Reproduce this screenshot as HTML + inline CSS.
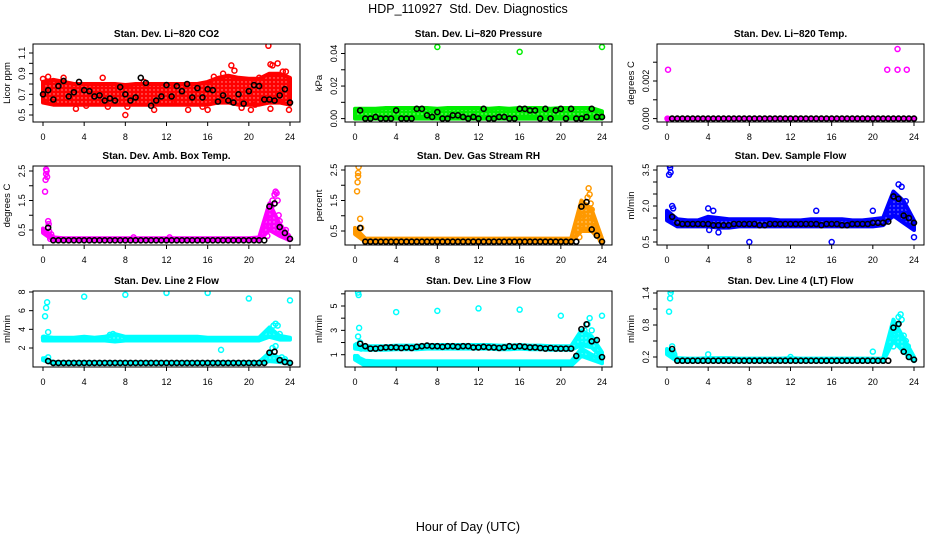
<!DOCTYPE html>
<html><head><meta charset="utf-8"><style>
html,body{margin:0;padding:0;background:#fff;}
svg{display:block;font-family:"Liberation Sans",sans-serif;}
</style></head><body>
<svg id="chart" width="936" height="540" viewBox="0 0 936 540" xmlns="http://www.w3.org/2000/svg">
<text x="468" y="13" text-anchor="middle" font-size="12.5">HDP_110927&#160; Std. Dev. Diagnostics</text>
<text x="468" y="531" text-anchor="middle" font-size="12.5">Hour of Day (UTC)</text>
</svg>
<script>
const NS="http://www.w3.org/2000/svg";
const svg=document.getElementById('chart');
const xTicks=[0,4,8,12,16,20,24];
const bandHours=[0,1,2,3,4,5,6,7,8,9,10,11,12,13,14,15,16,17,18,19,20,21,22,23,24];
const blackHours=[0,0.5,1,1.5,2,2.5,3,3.5,4,4.5,5,5.5,6,6.5,7,7.5,8,8.5,9,9.5,10,10.5,11,11.5,12,12.5,13,13.5,14,14.5,15,15.5,16,16.5,17,17.5,18,18.5,19,19.5,20,20.5,21,21.5,22,22.5,23,23.5,24];

// Panel 1 CO2
const co2BandLo=[0.62,0.6,0.6,0.6,0.6,0.6,0.6,0.6,0.6,0.6,0.6,0.6,0.6,0.6,0.6,0.6,0.6,0.62,0.62,0.6,0.6,0.6,0.62,0.62,0.6];
const co2BandHi=[0.82,0.84,0.82,0.8,0.8,0.8,0.8,0.8,0.79,0.8,0.8,0.8,0.8,0.8,0.8,0.8,0.82,0.86,0.88,0.86,0.85,0.85,0.9,0.9,0.86];
const co2ExtraX=[0,0.5,2,3.2,5.8,8,8.2,10.8,14.1,16,17.5,18.3,18.6,21,21.9,22.1,22.3,22.8,23.3,23.6,22.1,23.9,20.2,19.3,15.5,4.2,1,6.3,9.8,13,16.6,20.6];
const co2ExtraY=[0.85,0.87,0.86,0.56,0.86,0.5,0.58,0.55,0.55,0.55,0.9,0.98,0.93,0.86,1.17,0.99,0.98,1.0,0.92,0.92,0.56,0.55,0.55,0.57,0.58,0.59,0.62,0.58,0.82,0.63,0.87,0.6];
const co2Black=[0.7,0.74,0.65,0.78,0.83,0.68,0.72,0.82,0.74,0.73,0.68,0.69,0.64,0.66,0.64,0.77,0.7,0.64,0.67,0.86,0.81,0.59,0.64,0.68,0.79,0.68,0.78,0.73,0.8,0.67,0.76,0.67,0.75,0.74,0.63,0.69,0.64,0.62,0.7,0.61,0.73,0.79,0.78,0.65,0.65,0.64,0.69,0.75,0.62];

// Panel 2 Pressure
const presBandLo=[0,0,0,0,0,0,0,0,0,0,0,0,0,0,0,0,0,0,0,0,0,0,0,0,0];
const presBandHi=[0.006,0.006,0.006,0.0065,0.0065,0.0065,0.0065,0.0065,0.006,0.0065,0.0065,0.0065,0.0065,0.006,0.0065,0.006,0.0065,0.0065,0.0065,0.006,0.0065,0.0065,0.0065,0.0065,0.0045];
const presExtraX=[8,16,24];
const presExtraY=[0.044,0.041,0.044];
const presBlack=[0.005,0.005,0,0,0.001,0,0,0,0.005,0,0,0,0.006,0.006,0.002,0.001,0.004,0,0,0.002,0.002,0.001,0,0.001,0,0.006,0,0,0.001,0.001,0,0,0.006,0.006,0.005,0.005,0,0.006,0,0.005,0.006,0,0.006,0,0,0.001,0.006,0.001,0.001];

// Panel 3 Temp
const tempBandLo=[0,0,0,0,0,0,0,0,0,0,0,0,0,0,0,0,0,0,0,0,0,0,0,0,0];
const tempBandHi=[0,0,0,0,0,0,0,0,0,0,0,0,0,0,0,0,0,0,0,0,0,0,0,0,0];
const tempExtraX=[0.1,0.05,21.4,22.4,22.4,23.3];
const tempExtraY=[0.0026,0,0.0026,0.0026,0.0037,0.0026];
const tempBlack=[0,0,0,0,0,0,0,0,0,0,0,0,0,0,0,0,0,0,0,0,0,0,0,0,0,0,0,0,0,0,0,0,0,0,0,0,0,0,0,0,0,0,0,0,0,0,0,0,0];

// Panel 4 Amb box temp
const ambBandLo=[0.4,0.15,0.15,0.15,0.15,0.15,0.15,0.15,0.15,0.15,0.15,0.15,0.15,0.15,0.15,0.15,0.15,0.15,0.15,0.15,0.15,0.15,0.5,0.3,0.15];
const ambBandHi=[0.55,0.25,0.22,0.22,0.22,0.22,0.22,0.22,0.22,0.22,0.22,0.22,0.22,0.22,0.22,0.22,0.22,0.22,0.22,0.22,0.22,0.25,1.4,0.7,0.25];
const ambExtraX=[0.2,0.25,0.3,0.35,0.3,0.4,0.5,0.55,0.6,0.8,0.9,0.7,21.8,21.9,22,22.2,22.3,22.5,22.6,22.7,22.8,22.9,23,23.1,23.2,23.6,23.8,23.9,8.8,12.3];
const ambExtraY=[1.8,2.2,2.4,2.5,2.55,2.3,0.8,0.7,0.45,0.35,0.25,0.2,0.3,0.6,1.0,1.3,1.5,1.7,1.8,1.75,1.5,1.0,0.8,0.6,0.5,0.5,0.3,0.2,0.25,0.25];
const ambBlack=[0.5,0.58,0.15,0.15,0.15,0.15,0.15,0.15,0.15,0.15,0.15,0.15,0.15,0.15,0.15,0.15,0.15,0.15,0.15,0.15,0.15,0.15,0.15,0.15,0.15,0.15,0.15,0.15,0.15,0.15,0.15,0.15,0.15,0.15,0.15,0.15,0.15,0.15,0.15,0.15,0.15,0.15,0.15,0.15,1.3,1.4,0.6,0.4,0.2];

// Panel 5 Gas stream RH
const rhBandLo=[0.4,0.15,0.15,0.15,0.15,0.15,0.15,0.15,0.15,0.15,0.15,0.15,0.15,0.15,0.15,0.15,0.15,0.15,0.15,0.15,0.15,0.15,0.5,0.5,0.15];
const rhBandHi=[0.6,0.25,0.25,0.25,0.25,0.25,0.25,0.25,0.25,0.25,0.25,0.25,0.25,0.25,0.25,0.25,0.25,0.25,0.25,0.25,0.25,0.25,1.5,1.2,0.25];
const rhExtraX=[0.2,0.25,0.3,0.35,0.3,0.5,0.6,0.2,21.8,22,22.2,22.4,22.6,22.7,22.8,22.9,23,23.1,23.3,23.6,23.9];
const rhExtraY=[1.8,2.1,2.3,2.6,2.4,0.9,0.6,0.5,0.3,0.6,1.0,1.3,1.6,1.9,1.7,1.4,1.2,0.9,0.6,0.4,0.2];
const rhBlack=[0.5,0.6,0.15,0.15,0.15,0.15,0.15,0.15,0.15,0.15,0.15,0.15,0.15,0.15,0.15,0.15,0.15,0.15,0.15,0.15,0.15,0.15,0.15,0.15,0.15,0.15,0.15,0.15,0.15,0.15,0.15,0.15,0.15,0.15,0.15,0.15,0.15,0.15,0.15,0.15,0.15,0.15,0.15,0.15,1.3,1.45,0.55,0.35,0.15];

// Panel 6 Sample flow
const sfBandLo=[1.4,1.15,1.15,1.15,1.15,1.1,1.1,1.15,1.15,1.15,1.15,1.15,1.15,1.15,1.15,1.15,1.15,1.15,1.15,1.15,1.15,1.2,1.6,1.3,1.0];
const sfBandHi=[1.8,1.45,1.4,1.4,1.55,1.5,1.45,1.45,1.45,1.45,1.45,1.4,1.4,1.4,1.45,1.45,1.45,1.45,1.4,1.4,1.45,1.5,2.6,2.2,1.4];
const sfExtraX=[0.2,0.3,0.35,0.25,0.5,0.6,8,16,24,4,4.5,14.5,20,22.5,22.8,23.2,5,4.1];
const sfExtraY=[3.3,3.6,3.4,3.7,2.0,1.9,0.5,0.5,0.7,1.9,1.8,1.8,1.8,2.9,2.8,2.2,0.9,1.0];
const sfBlack=[1.7,1.55,1.3,1.25,1.25,1.25,1.25,1.25,1.25,1.2,1.2,1.2,1.2,1.25,1.25,1.25,1.25,1.25,1.2,1.2,1.25,1.25,1.25,1.25,1.25,1.25,1.25,1.25,1.25,1.25,1.2,1.25,1.25,1.25,1.2,1.2,1.25,1.25,1.25,1.25,1.3,1.3,1.3,1.35,2.4,2.3,1.6,1.5,1.3];

// Panel 7 Line 2 flow
const l2BandLo=[2.8,2.8,2.8,2.8,2.8,2.8,2.8,2.7,2.8,2.8,2.8,2.8,2.8,2.8,2.8,2.8,2.8,2.8,2.8,2.8,2.8,2.8,3.2,2.9,2.9];
const l2BandHi=[3.2,3.1,3.1,3.1,3.2,3.1,3.2,3.5,3.2,3.2,3.2,3.2,3.2,3.2,3.2,3.2,3.1,3.1,3.1,3.1,3.1,3.1,4.2,3.3,3.1];
const l2Band2Lo=[0.7,0.3,0.3,0.3,0.3,0.3,0.3,0.3,0.3,0.3,0.3,0.3,0.3,0.3,0.3,0.3,0.3,0.3,0.3,0.3,0.3,0.3,0.6,0.5,0.3];
const l2Band2Hi=[0.9,0.5,0.5,0.5,0.5,0.5,0.5,0.5,0.5,0.5,0.5,0.5,0.5,0.5,0.5,0.5,0.5,0.5,0.5,0.5,0.5,0.5,1.5,0.9,0.5];
const l2ExtraX=[0.1,0.2,0.3,0.4,0.5,0.2,0.5,4,8,12,16,20,24,17.3,6.5,6.8,22.2,22.4,22.6,22.8,23,22.3,22.6,23.2,23.5];
const l2ExtraY=[3.1,5.4,6.3,6.9,3.7,0.8,1.0,7.5,7.7,7.9,7.9,7.3,7.1,1.8,3.4,3.5,3.8,4.4,4.6,4.4,3.5,2.0,2.2,1.0,0.8];
const l2Black=[0.6,0.6,0.4,0.4,0.4,0.4,0.4,0.4,0.4,0.4,0.4,0.4,0.4,0.4,0.4,0.4,0.4,0.4,0.4,0.4,0.4,0.4,0.4,0.4,0.4,0.4,0.4,0.4,0.4,0.4,0.4,0.4,0.4,0.4,0.4,0.4,0.4,0.4,0.4,0.4,0.4,0.4,0.4,0.4,1.5,1.6,0.7,0.5,0.4];

// Panel 8 Line 3 flow
const l3BandLo=[1.5,1.4,1.4,1.4,1.45,1.45,1.45,1.5,1.5,1.5,1.5,1.5,1.5,1.5,1.45,1.45,1.5,1.45,1.45,1.4,1.4,1.4,1.8,1.6,0.8];
const l3BandHi=[1.8,1.7,1.7,1.7,1.75,1.75,1.75,1.8,1.8,1.8,1.8,1.8,1.8,1.8,1.75,1.75,1.8,1.75,1.75,1.7,1.7,1.7,3.0,2.5,1.2];
const l3Band2Lo=[0.6,0.1,0.1,0.1,0.1,0.1,0.1,0.1,0.1,0.1,0.1,0.1,0.1,0.1,0.1,0.1,0.1,0.1,0.1,0.1,0.1,0.1,0.9,0.6,0.3];
const l3Band2Hi=[0.9,0.5,0.45,0.45,0.45,0.45,0.45,0.45,0.45,0.45,0.45,0.45,0.45,0.45,0.45,0.45,0.45,0.45,0.45,0.45,0.45,0.45,1.5,1.0,0.6];
const l3ExtraX=[0.2,0.3,0.35,0.4,0.3,0.2,0.5,0.6,4,8,12,16,20,24,22,22.3,22.6,22.8,23,23.3,23.5,21.8];
const l3ExtraY=[0.8,6.1,5.9,3.2,2.5,1.8,2.0,1.5,4.5,4.6,4.8,4.7,4.2,4.2,1.8,3.0,3.5,4.0,3.0,2.2,1.0,0.9];
const l3Black=[1.6,1.9,1.7,1.5,1.5,1.55,1.6,1.6,1.6,1.55,1.6,1.55,1.65,1.7,1.75,1.7,1.7,1.65,1.7,1.7,1.65,1.7,1.7,1.6,1.6,1.65,1.6,1.6,1.55,1.6,1.7,1.65,1.7,1.65,1.6,1.6,1.55,1.5,1.55,1.5,1.5,1.5,1.5,0.9,3.1,3.5,2.1,2.2,0.8];

// Panel 9 Line 4 flow
const l4BandLo=[0.25,0.12,0.12,0.12,0.12,0.12,0.12,0.12,0.12,0.12,0.12,0.12,0.12,0.12,0.12,0.12,0.12,0.12,0.12,0.12,0.12,0.12,0.5,0.3,0.12];
const l4BandHi=[0.35,0.18,0.17,0.17,0.18,0.18,0.18,0.17,0.17,0.17,0.17,0.17,0.18,0.17,0.17,0.17,0.17,0.17,0.17,0.17,0.17,0.17,0.9,0.55,0.2];
const l4ExtraX=[0.2,0.3,0.35,0.4,0.3,0.5,0.6,0.7,4,12,20,22,22.2,22.4,22.5,22.7,22.8,23,23.2,23.4,23.6];
const l4ExtraY=[1.05,1.3,1.4,1.45,0.3,0.4,0.3,0.25,0.25,0.2,0.3,0.4,0.6,0.8,0.95,1.0,0.9,0.6,0.5,0.4,0.2];
const l4Black=[0.3,0.35,0.13,0.13,0.13,0.13,0.13,0.13,0.13,0.13,0.13,0.13,0.13,0.13,0.13,0.13,0.13,0.13,0.13,0.13,0.13,0.13,0.13,0.13,0.13,0.13,0.13,0.13,0.13,0.13,0.13,0.13,0.13,0.13,0.13,0.13,0.13,0.13,0.13,0.13,0.13,0.13,0.13,0.13,0.75,0.82,0.3,0.2,0.15];

const panels=[
 {key:'co2',col:0,row:0,title:'Stan. Dev. Li\u2212820 CO2',ylab:'Licor ppm',color:'#ff0000',ym:[0.5,115,1.1,53],ticks:[0.5,0.6,0.7,0.8,0.9,1.0,1.1],labels:[0.5,0.7,0.9,1.1],fmt:1,lo:co2BandLo,hi:co2BandHi,ex:co2ExtraX,ey:co2ExtraY,bk:co2Black},
 {key:'pressure',col:1,row:0,title:'Stan. Dev. Li\u2212820 Pressure',ylab:'kPa',color:'#00ee00',ym:[0,118.6,0.04,53.5],ticks:[0,0.01,0.02,0.03,0.04],labels:[0,0.02,0.04],fmt:2,lo:presBandLo,hi:presBandHi,ex:presExtraX,ey:presExtraY,bk:presBlack},
 {key:'temp',col:2,row:0,title:'Stan. Dev. Li\u2212820 Temp.',ylab:'degrees C',color:'#ff00ff',ym:[0,118.6,0.002,81],ticks:[0,0.001,0.002,0.003],labels:[0,0.002],fmt:3,lo:tempBandLo,hi:tempBandHi,ex:tempExtraX,ey:tempExtraY,bk:tempBlack},
 {key:'ambtemp',col:0,row:1,title:'Stan. Dev. Amb. Box Temp.',ylab:'degrees C',color:'#ff00ff',ym:[0.5,230,2.5,171],ticks:[0.5,1,1.5,2,2.5],labels:[0.5,1.5,2.5],fmt:1,lo:ambBandLo,hi:ambBandHi,ex:ambExtraX,ey:ambExtraY,bk:ambBlack},
 {key:'rh',col:1,row:1,title:'Stan. Dev. Gas Stream RH',ylab:'percent',color:'#ff9900',ym:[0.5,231,2.5,170],ticks:[0.5,1,1.5,2,2.5],labels:[0.5,1.5,2.5],fmt:1,lo:rhBandLo,hi:rhBandHi,ex:rhExtraX,ey:rhExtraY,bk:rhBlack},
 {key:'sampleflow',col:2,row:1,title:'Stan. Dev. Sample Flow',ylab:'ml/min',color:'#0000ff',ym:[0.5,242,3.5,170],ticks:[0.5,1,1.5,2,2.5,3,3.5],labels:[0.5,2.0,3.5],fmt:1,lo:sfBandLo,hi:sfBandHi,ex:sfExtraX,ey:sfExtraY,bk:sfBlack},
 {key:'line2',col:0,row:2,title:'Stan. Dev. Line 2 Flow',ylab:'ml/min',color:'#00ffff',ym:[2,348,8,292],ticks:[2,4,6,8],labels:[2,4,6,8],fmt:0,lo:l2BandLo,hi:l2BandHi,lo2:l2Band2Lo,hi2:l2Band2Hi,ex:l2ExtraX,ey:l2ExtraY,bk:l2Black},
 {key:'line3',col:1,row:2,title:'Stan. Dev. Line 3 Flow',ylab:'ml/min',color:'#00ffff',ym:[1,354.7,5,306],ticks:[1,2,3,4,5,6],labels:[1,3,5],fmt:0,lo:l3BandLo,hi:l3BandHi,lo2:l3Band2Lo,hi2:l3Band2Hi,ex:l3ExtraX,ey:l3ExtraY,bk:l3Black},
 {key:'line4',col:2,row:2,title:'Stan. Dev. Line 4 (LT) Flow',ylab:'ml/min',color:'#00ffff',ym:[0.2,357,1.4,293],ticks:[0.2,0.5,0.8,1.1,1.4],labels:[0.2,0.8,1.4],fmt:1,lo:l4BandLo,hi:l4BandHi,ex:l4ExtraX,ey:l4ExtraY,bk:l4Black}
];
const tops=[44,166,291], bots=[122,245,367];

function mk(tag,attrs,parent){const e=document.createElementNS(NS,tag);for(const k in attrs)e.setAttribute(k,attrs[k]);(parent||svg).appendChild(e);return e;}
const defs=mk('defs',{});

panels.forEach(p=>{
 const x0=43+p.col*312, pxh=247/24;
 const xs=h=>x0+h*pxh;
 const ys=v=>p.ym[1]+(v-p.ym[0])*(p.ym[3]-p.ym[1])/(p.ym[2]-p.ym[0]);
 const top=tops[p.row], bot=bots[p.row], left=x0-10, right=x0+257;
 const pat=mk('pattern',{id:'pat-'+p.key,width:4,height:4,patternUnits:'userSpaceOnUse'},defs);
 mk('rect',{x:0,y:0,width:4,height:4,fill:p.color},pat);
 mk('circle',{cx:2,cy:2,r:0.7,fill:'#fff','fill-opacity':'0.6'},pat);
 const g=mk('g',{});
 
 
 const cp=mk('clipPath',{id:'cp-'+p.key},g);
 mk('rect',{x:left,y:top,width:right-left,height:bot-top},cp);
 const title=mk('text',{x:(left+right)/2,y:top-7,'text-anchor':'middle','font-size':'10','font-weight':'bold'},g);
 title.textContent=p.title;
 
 
 const yl=mk('text',{transform:`translate(${left-23},${(top+bot)/2}) rotate(-90)`,'text-anchor':'middle','font-size':'9.5'},g);
 yl.textContent=p.ylab;
 
 
 const pg=mk('g',{'clip-path':`url(#cp-${p.key})`},g);
 function band(lo,hi,nm){
  let pts=[];
  bandHours.forEach((h,i)=>pts.push(xs(h).toFixed(1)+','+ys(hi[i]).toFixed(1)));
  for(let i=bandHours.length-1;i>=0;i--)pts.push(xs(bandHours[i]).toFixed(1)+','+ys(lo[i]).toFixed(1));
  const b=mk('polygon',{points:pts.join(' '),fill:`url(#pat-${p.key})`,stroke:p.color,'stroke-width':'4','stroke-linejoin':'round'},pg);
  
  
 }
 band(p.lo,p.hi,'point-band-'+p.key);
 if(p.lo2)band(p.lo2,p.hi2,'point-band-lower-'+p.key);
 p.ex.forEach((h,i)=>{
  const c=mk('circle',{cx:xs(h),cy:ys(p.ey[i]),r:2.5,fill:'none',stroke:p.color,'stroke-width':'1.5'},pg);
  
  
 });
 p.bk.forEach((v,i)=>{
  if(blackHours[i]===0&&p.key!=='co2')return;
  const c=mk('circle',{cx:xs(blackHours[i]),cy:ys(v),r:2.5,fill:'none',stroke:'#000','stroke-width':'1.6'},pg);
  
  
 });
 const box=mk('rect',{x:left,y:top,width:right-left,height:bot-top,fill:'none',stroke:'#000','stroke-width':'1'},g);
 
 
 xTicks.forEach(t=>{
  mk('line',{x1:xs(t),x2:xs(t),y1:bot,y2:bot+4,stroke:'#000'},g);
  const tl=mk('text',{x:xs(t),y:bot+18,'text-anchor':'middle','font-size':'9'},g);
  tl.textContent=t;
  
  
 });
 p.ticks.forEach(t=>mk('line',{x1:left-4,x2:left,y1:ys(t),y2:ys(t),stroke:'#000'},g));
 p.labels.forEach(t=>{
  const tl=mk('text',{transform:`translate(${left-8},${ys(t)}) rotate(-90)`,'text-anchor':'middle','font-size':'9'},g);
  tl.textContent=t.toFixed(p.fmt);
  
  
 });
});
</script>
</body></html>
